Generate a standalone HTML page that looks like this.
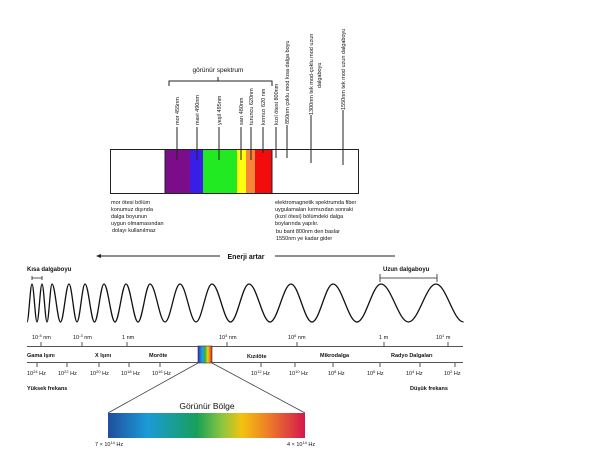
<!DOCTYPE html>
<html><head><meta charset="utf-8"><style>
html,body{margin:0;padding:0;background:#fff;width:600px;height:450px;overflow:hidden}
svg{display:block}
text{font-family:"Liberation Sans",sans-serif;fill:#111}
.t{font-size:5.5px}
.b{font-size:6px;font-weight:bold}
.s{font-size:6.5px}
</style></head><body>
<svg width="600" height="450" viewBox="0 0 600 450" xmlns="http://www.w3.org/2000/svg">
<defs>
<linearGradient id="g" x1="0" x2="1" y1="0" y2="0">
<stop offset="0" stop-color="#1f4e9e"/><stop offset="0.2" stop-color="#1b9ad8"/>
<stop offset="0.45" stop-color="#17a05a"/><stop offset="0.58" stop-color="#8cc63f"/>
<stop offset="0.68" stop-color="#f5c20f"/><stop offset="0.82" stop-color="#ec7a2a"/>
<stop offset="1" stop-color="#d4184e"/></linearGradient>
<linearGradient id="g2" x1="0" x2="1"><stop offset="0" stop-color="#3030c0"/><stop offset="0.3" stop-color="#20a0e0"/><stop offset="0.5" stop-color="#30b040"/><stop offset="0.7" stop-color="#f0d010"/><stop offset="1" stop-color="#e02020"/></linearGradient>
</defs>
<g stroke="#222" fill="none" stroke-width="1">
<rect x="110.5" y="149.5" width="248" height="44"/>
<path d="M169 86V81H272V86M218 81V77"/>
<path d="M177 127V152M197 127V152M219 127V152M241 127V152M251 127V152M263 127V153M276 127V158M287 125V158M311 115V163M343 110V165"/>
</g>
<rect x="165" y="150" width="25" height="43" fill="#7b0d8a"/>
<rect x="190" y="150" width="13" height="43" fill="#3a1de6"/>
<rect x="203" y="150" width="34" height="43" fill="#22ea22"/>
<rect x="237" y="150" width="9" height="43" fill="#ffff10"/>
<rect x="246" y="150" width="9" height="43" fill="#f7853a"/>
<rect x="255" y="150" width="17" height="43" fill="#f20c0c"/>
<path d="M165 149.5V193.5M272 149.5V193.5M177 150V160M197 150V160M219 150V160M241 150V160M251 150V160M263 150V153" stroke="#222" stroke-width="1"/>
<text x="218" y="72" class="s" text-anchor="middle">görünür spektrum</text>
<g class="t">
<text transform="translate(179,125) rotate(-90)">mor 455nm</text>
<text transform="translate(199,125) rotate(-90)">mavi 490nm</text>
<text transform="translate(221,125) rotate(-90)">yeşil 495nm</text>
<text transform="translate(243,125) rotate(-90)">sarı 480nm</text>
<text transform="translate(253,125) rotate(-90)">turuncu 620nm</text>
<text transform="translate(265,125) rotate(-90)">kırmızı 620 nm</text>
<text transform="translate(278,125) rotate(-90)">kızıl ötesi 800nm</text>
<text transform="translate(289,124) rotate(-90)">850nm  çoklu mod kısa dalga boyu</text>
<text transform="translate(313,115) rotate(-90)">1300nm   tek mod-çoklu mod uzun</text>
<text transform="translate(321,88) rotate(-90)">dalgaboyu</text>
<text transform="translate(345,110) rotate(-90)">1550nm   tek mod uzun dalgaboyu</text>
<text x="111" y="204">mor ötesi bölüm</text>
<text x="111" y="211">konumuz dışında</text>
<text x="111" y="218">dalga boyunun</text>
<text x="111" y="225">uygun olmamasından</text>
<text x="112" y="232">dolayı kullanılmaz</text>
<text x="275" y="204">elektromagnetik spektrumda fiber</text>
<text x="275" y="211">uygulamaları kırmızıdan sonraki</text>
<text x="275" y="218">(kızıl ötesi) bölümdeki dalga</text>
<text x="275" y="225">boylarında yapılır.</text>
<text x="276" y="233">bu bant 800nm den baslar</text>
<text x="276" y="240">1550nm ye kadar gider</text>
</g>
<g stroke="#222" fill="none">
<path d="M98 256H220M275 256H395"/>
<path d="M32 276V280M32 278H42M42 276V280M380 274V282M380 278H437M437 274V282" stroke-width="0.8"/>
</g>
<path d="M96 256L101 254V258Z" fill="#222"/>
<text x="246" y="259" class="b" text-anchor="middle" style="font-size:7px">Enerji artar</text>
<text x="27" y="271" class="b">Kısa dalgaboyu</text>
<text x="383" y="271" class="b">Uzun dalgaboyu</text>
<path fill="none" stroke="#111" stroke-width="1.3" d="M27 322C28.8 322 30.2 284 32 284C33.8 284 35.2 322 37 322C38.8 322 40.2 284 42 284C43.8 284 45.2 322 47 322C48.8 322 50.2 284 52 284C55.1 284 57.4 322 60.5 322C63.6 322 65.9 284 69 284C71.9 284 74.1 322 77 322C79.9 322 82.1 284 85 284C88.5 284 91 322 94.5 322C98 322 100.5 284 104 284C108 284 111 322 115 322C119 322 122 284 126 284C130.4 284 133.6 322 138 322C142.4 322 145.6 284 150 284C155.5 284 159.5 322 165 322C170.5 322 174.5 284 180 284C185.8 284 190.2 322 196 322C201.8 322 206.2 284 212 284C218.7 284 223.8 322 230.5 322C237.2 322 242.3 284 249 284C256.6 284 262.4 322 270 322C277.6 322 283.4 284 291 284C298.6 284 304.4 322 312 322C319.6 322 325.4 284 333 284C341.7 284 348.3 322 357 322C365.7 322 372.3 284 381 284C391 284 398.5 322 408.5 322C418.5 322 426 284 436 284C446 284 453.5 322 463.5 322"/>
<g stroke="#555" stroke-width="1" fill="none">
<path d="M27 346.5H463M27 362.5H463"/>
<path d="M41 342V346M82 342V346M127 342V346M227 342V346M297 342V346M384 342V346M448 342V346"/>
<path d="M37 363V367M67 363V367M99 363V367M129 363V367M160 363V367M261 363V367M295 363V367M333 363V367M380 363V367M420 363V367M455 363V367"/>
</g>
<rect x="198" y="346" width="14" height="17" fill="url(#g2)" stroke="#333" stroke-width="0.6"/>
<g class="t">
<text x="32" y="339">10<tspan dy="-2" font-size="4">-5</tspan><tspan dy="2"> nm</tspan></text>
<text x="73" y="339">10<tspan dy="-2" font-size="4">-3</tspan><tspan dy="2"> nm</tspan></text>
<text x="122" y="339">1 nm</text>
<text x="219" y="339">10<tspan dy="-2" font-size="4">3</tspan><tspan dy="2"> nm</tspan></text>
<text x="288" y="339">10<tspan dy="-2" font-size="4">6</tspan><tspan dy="2"> nm</tspan></text>
<text x="379" y="339">1 m</text>
<text x="436" y="339">10<tspan dy="-2" font-size="4">1</tspan><tspan dy="2"> m</tspan></text>
</g>
<g class="b" style="font-size:5.5px">
<text x="27" y="357">Gama Işını</text>
<text x="95" y="357">X Işını</text>
<text x="149" y="357">Moröte</text>
<text x="247" y="358">Kızılöte</text>
<text x="320" y="357">Mikrodalga</text>
<text x="391" y="357">Radyo Dalgaları</text>
<text x="27" y="390">Yüksek frekans</text>
<text x="410" y="390">Düşük frekans</text>
</g>
<g class="t">
<text x="27" y="375">10<tspan dy="-2" font-size="4">24</tspan><tspan dy="2"> Hz</tspan></text>
<text x="58" y="375">10<tspan dy="-2" font-size="4">22</tspan><tspan dy="2"> Hz</tspan></text>
<text x="90" y="375">10<tspan dy="-2" font-size="4">20</tspan><tspan dy="2"> Hz</tspan></text>
<text x="121" y="375">10<tspan dy="-2" font-size="4">18</tspan><tspan dy="2"> Hz</tspan></text>
<text x="152" y="375">10<tspan dy="-2" font-size="4">16</tspan><tspan dy="2"> Hz</tspan></text>
<text x="251" y="375">10<tspan dy="-2" font-size="4">12</tspan><tspan dy="2"> Hz</tspan></text>
<text x="289" y="375">10<tspan dy="-2" font-size="4">10</tspan><tspan dy="2"> Hz</tspan></text>
<text x="328" y="375">10<tspan dy="-2" font-size="4">8</tspan><tspan dy="2"> Hz</tspan></text>
<text x="367" y="375">10<tspan dy="-2" font-size="4">6</tspan><tspan dy="2"> Hz</tspan></text>
<text x="406" y="375">10<tspan dy="-2" font-size="4">4</tspan><tspan dy="2"> Hz</tspan></text>
<text x="444" y="375">10<tspan dy="-2" font-size="4">2</tspan><tspan dy="2"> Hz</tspan></text>
</g>
<path d="M198 363L108 413M212 363L305 413" stroke="#444" stroke-width="0.8"/>
<rect x="108" y="413" width="197" height="25" fill="url(#g)"/>
<text x="207" y="409" text-anchor="middle" style="font-size:8.5px">Görünür Bölge</text>
<text x="95" y="446" class="t">7 × 10<tspan dy="-2" font-size="4">14</tspan><tspan dy="2"> Hz</tspan></text>
<text x="287" y="446" class="t">4 × 10<tspan dy="-2" font-size="4">14</tspan><tspan dy="2"> Hz</tspan></text>
</svg>
</body></html>
